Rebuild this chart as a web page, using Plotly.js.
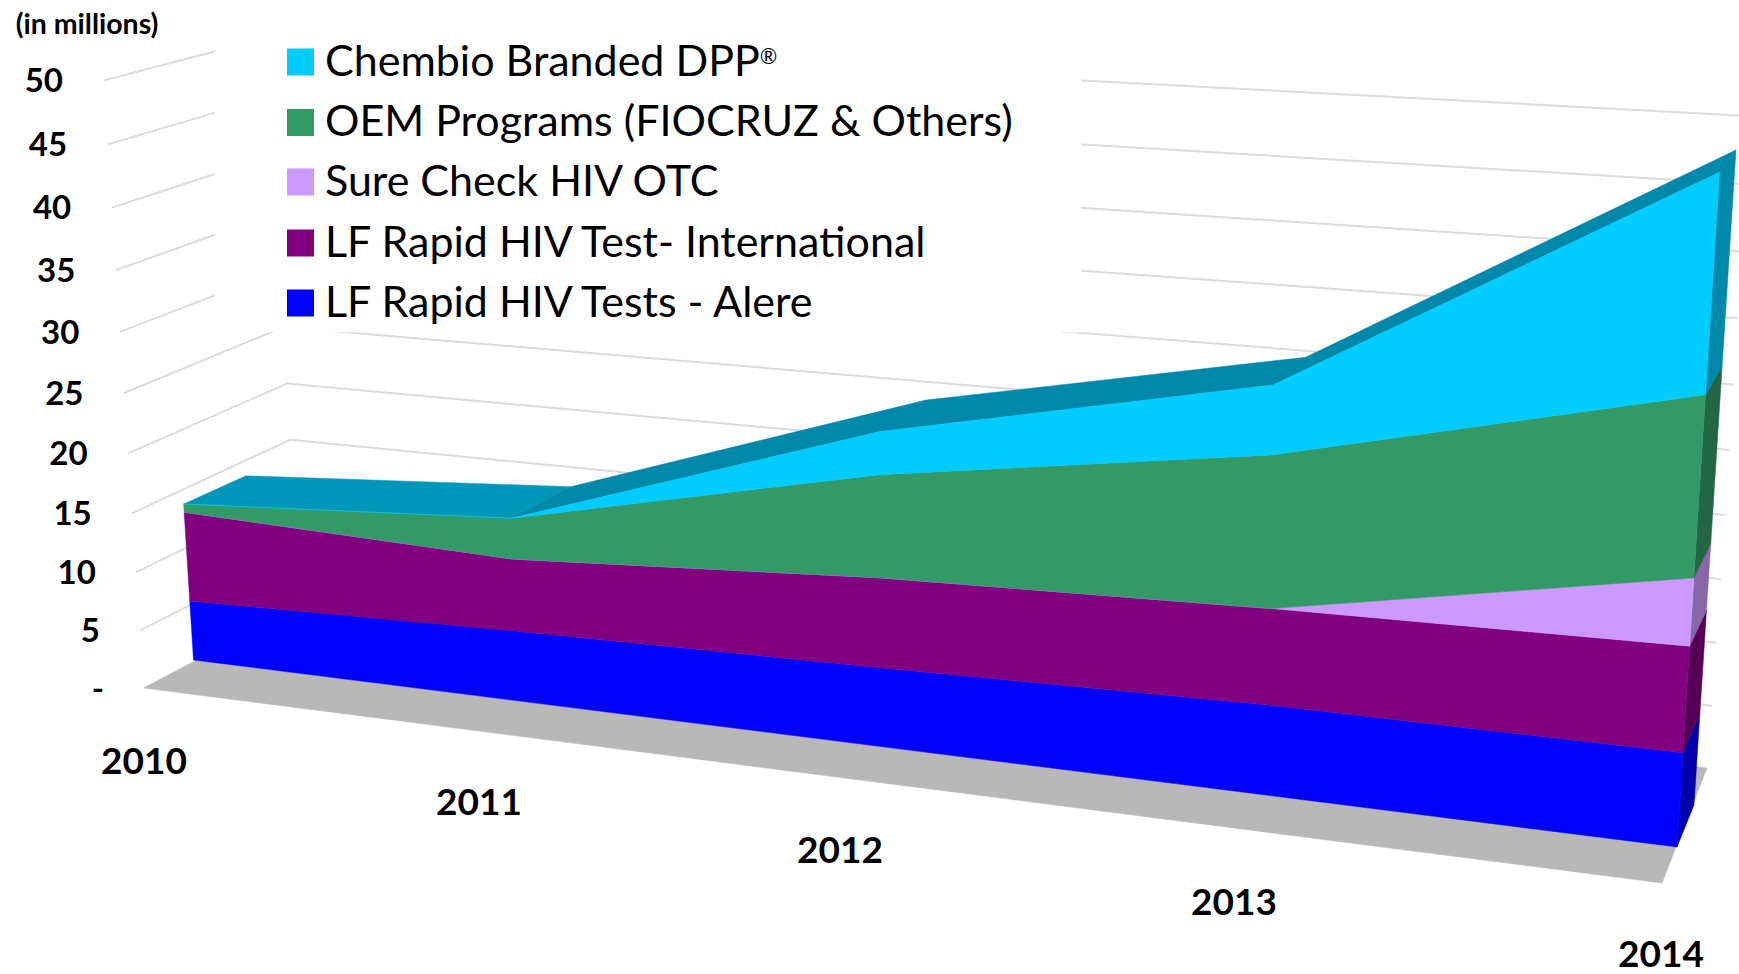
<!DOCTYPE html>
<html>
<head>
<meta charset="utf-8">
<script src="https://cdn.plot.ly/plotly-3.0.1.min.js"></script>
<style>html,body{margin:0;padding:0;background:#fff}#chart{width:1739px;height:974px}</style>
</head>
<body>
<div id="chart"></div>
<script>
// ---- data (millions of tests) ----
const years = ['2010', '2011', '2012', '2013', '2014'];
const alere = [5.1, 5.8, 6.3, 6.9, 6.9];
const international = [7.7, 6.0, 7.2, 7.4, 7.8];
const sureCheck = [0, 0, 0, 0, 5.0];
const oem = [0.7, 3.4, 8.25, 11.75, 13.4];
const dpp = [0, 0, 3.45, 5.35, 16.3];
const seriesNames = ['LF Rapid HIV Tests - Alere', 'LF Rapid HIV Test- International', 'Sure Check HIV OTC', 'OEM Programs (FIOCRUZ & Others)', 'Chembio Branded DPP<sup><sub>®</sub></sup>'];
const seriesValues = [alere, international, sureCheck, oem, dpp];
const seriesColors = ['#0000FF', '#800080', '#CC99FF', '#339966', '#00CCFF'];
const sideColors = ['#0000AA', '#550055', '#8866AA', '#226644', '#0088AA'];
const valueTicks = [50, 45, 40, 35, 30, 25, 20, 15, 10, 5, 0];
const valueTickLabels = ['50', '45', '40', '35', '30', '25', '20', '15', '10', '5', '-'];

// ---- the 3-D view: where each year's value scale lands on the page ----
const frontPlane = {x: [193.5, 516, 880, 1270, 1677], y: [660, 700.6, 746.5, 795.6, 847], lean: [-0.73, -0.3, 0, 0.1, 0.86], scale: [11.55, 12.0, 12.5, 13.08, 13.66]};
const backPlane = {x: [255.5, 576, 923.5, 1290, 1694], y: [627, 663, 705, 756, 805], lean: [-0.7, -0.35, 0.1, 0.5, 0.85], scale: [11.2, 11.6, 12.1, 12.7, 13.26]};
const project = (plane, i, v) => [plane.x[i] + plane.lean[i] * v, plane.y[i] - plane.scale[i] * v];
const wallFront = v => [144.5 - 0.82 * v, 688 - 11.45 * v - 0.014 * v * v];
const wallCorner = v => [299 - 0.6 * v, 606 - 10.95 * v - 0.0085 * v * v];
const wallRight = v => [1708 + 0.85 * v, 768 - 12.4 * v - 0.0128 * v * v];
const yearLabelPos = [[144, 765], [479, 806], [840, 854], [1234, 906], [1661, 958]];
const floorCorners = [[143.5, 688], [1662, 883], [1707, 768], [299, 606]];
const legendBox = [[215, 0], [1081, 0], [1081, 332], [215, 332]];
const legendRowY = [303, 243, 182, 122.5, 62];

// ---- build marks ----
const traces = [];
const poly = (pts, color, name) => traces.push({
  type: 'scatter', mode: 'lines', name: name, showlegend: false, hoverinfo: 'skip',
  x: pts.map(p => p[0]).concat(pts[0][0]), y: pts.map(p => p[1]).concat(pts[0][1]),
  fill: 'toself', fillcolor: color, line: {width: 0.5, color: color}
});
const gridline = (pts) => traces.push({
  type: 'scatter', mode: 'lines', showlegend: false, hoverinfo: 'skip',
  x: pts.map(p => p[0]), y: pts.map(p => p[1]), line: {width: 2, color: '#DBDBDB'}
});

valueTicks.filter(v => v > 0).forEach(v => gridline([wallFront(v), wallCorner(v), wallRight(v)]));
poly(legendBox, '#FFFFFF', 'legend background');
poly(floorCorners, '#B8B8B8', 'floor');

const cum = [];
seriesValues.forEach((vals, s) => cum.push(vals.map((v, i) => v + (s ? cum[s - 1][i] : 0))));
const total = cum[cum.length - 1];
const last = years.length - 1;

// top surface
poly([project(frontPlane, 0, total[0]), project(frontPlane, 1, total[1]), project(backPlane, 1, total[1]), project(backPlane, 0, total[0])], '#0096BA', 'top 2010-2011');
const topF = [], topB = [];
for (let i = 1; i <= last; i++) { topF.push(project(frontPlane, i, total[i])); topB.unshift(project(backPlane, i, total[i])); }
poly(topF.concat(topB), '#0088AA', 'top 2011-2014');

// right-hand end panels and front faces
seriesValues.forEach((vals, s) => {
  const lo = s ? cum[s - 1][last] : 0, hi = cum[s][last];
  poly([project(frontPlane, last, lo), project(frontPlane, last, hi), project(backPlane, last, hi), project(backPlane, last, lo)], sideColors[s], 'side ' + s);
});
seriesValues.forEach((vals, s) => {
  const up = years.map((y, i) => project(frontPlane, i, cum[s][i]));
  const dn = years.map((y, i) => project(frontPlane, i, s ? cum[s - 1][i] : 0)).reverse();
  poly(up.concat(dn), seriesColors[s], seriesNames[s]);
});

// value labels
traces.push({
  type: 'scatter', mode: 'text', showlegend: false, hoverinfo: 'skip',
  x: valueTicks.map(v => wallFront(v)[0] - 40.5), y: valueTicks.map(v => wallFront(v)[1] + 3.5),
  text: valueTickLabels, textposition: 'middle left',
  textfont: {family: 'Lato, sans-serif', size: 33, color: '#000', weight: 700}
});
// year labels
traces.push({
  type: 'scatter', mode: 'text', showlegend: false, hoverinfo: 'skip',
  x: yearLabelPos.map(p => p[0]), y: yearLabelPos.map(p => p[1]),
  text: years, textposition: 'middle center',
  textfont: {family: 'Lato, sans-serif', size: 37, color: '#000', weight: 700}
});
// unit label
traces.push({
  type: 'scatter', mode: 'text', showlegend: false, hoverinfo: 'skip',
  x: [87], y: [27], text: ['(in millions)'], textposition: 'middle center',
  textfont: {family: 'Lato, sans-serif', size: 28.5, color: '#000', weight: 700}
});
// legend
seriesNames.forEach((name, s) => {
  traces.push({
    type: 'scatter', mode: 'markers', showlegend: false, hoverinfo: 'skip',
    x: [300.5], y: [legendRowY[s]],
    marker: {symbol: 'square', size: 27, color: seriesColors[s]}
  });
  traces.push({
    type: 'scatter', mode: 'text', showlegend: false, hoverinfo: 'skip',
    x: [325], y: [legendRowY[s] + 3], text: [name], textposition: 'middle right',
    textfont: {family: 'Lato, sans-serif', size: 43, color: '#000'}
  });
});

Plotly.newPlot('chart', traces, {
  width: 1739, height: 974, margin: {l: 0, r: 0, t: 0, b: 0},
  paper_bgcolor: '#fff', plot_bgcolor: '#fff', showlegend: false,
  xaxis: {visible: false, range: [0, 1739], fixedrange: true},
  yaxis: {visible: false, range: [974, 0], fixedrange: true}
}, {displayModeBar: false, staticPlot: true});
</script>
</body>
</html>
